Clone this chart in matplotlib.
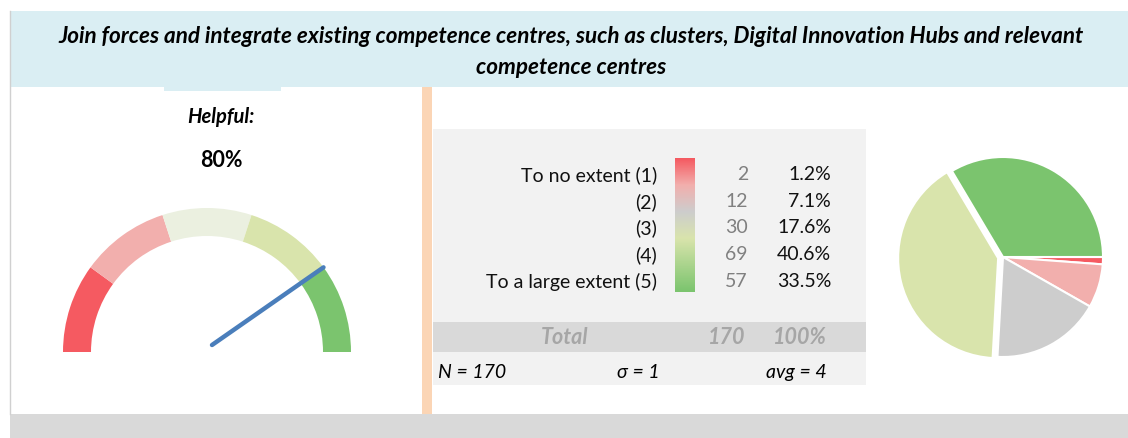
import numpy as np
import matplotlib
matplotlib.use("Agg")
import matplotlib.pyplot as plt
from matplotlib.patches import Rectangle, Wedge
from matplotlib.colors import LinearSegmentedColormap

# ---------------- data ----------------
title = "Join forces and integrate existing competence centres, such as clusters, Digital Innovation Hubs and relevant\ncompetence centres"
categories = ["To no extent (1)", "(2)", "(3)", "(4)", "To a large extent (5)"]
counts = [2, 12, 30, 69, 57]
percents = ["1.2%", "7.1%", "17.6%", "40.6%", "33.5%"]
total_count = 170
total_pct = "100%"
helpful_label = "Helpful:"
helpful_value = 0.80
footer = ["N = 170", "σ = 1", "avg = 4"]
colors = ["#F55A61", "#F2AFAD", "#CDCDCD", "#D9E4AC", "#7BC46E"]
gauge_colors = ["#F55A61", "#F2AFAD", "#EBF0E0", "#D9E4AC", "#7BC46E"]

FONT = ["Lato", "DejaVu Sans"]
plt.rcParams["font.family"] = FONT

W, H = 1128, 439
fig = plt.figure(figsize=(W / 100, H / 100), dpi=100)
bg = fig.add_axes([0, 0, 1, 1])
bg.set_xlim(0, W)
bg.set_ylim(H, 0)
bg.axis("off")

# background blocks
bg.add_patch(Rectangle((10, 12), W - 10, 76, color="#DAEEF3", lw=0))
bg.add_patch(Rectangle((164, 88), 117, 4, color="#DAEEF3", lw=0))
bg.add_patch(Rectangle((10, 415), W - 10, 24, color="#D9D9D9", lw=0))
bg.plot([10, 10], [12, 415], color="#D0D0D0", lw=1)
bg.add_patch(Rectangle((422, 88), 10, 327, color="#FBD5B5", lw=0))
bg.add_patch(Rectangle((433, 130), 433, 256, color="#F2F2F2", lw=0))
bg.add_patch(Rectangle((433, 323), 433, 30, color="#D9D9D9", lw=0))

bg.text(571, 52, title, ha="center", va="center", fontsize=16.2,
        fontweight="bold", fontstyle="italic", linespacing=1.55)

# helpful text
bg.text(221, 117, helpful_label, ha="center", va="center", fontsize=14.5,
        fontweight="bold", fontstyle="italic")
bg.text(221, 161, f"{helpful_value:.0%}", ha="center", va="center",
        fontsize=15.5, fontweight="bold")

# table
FS = 14
row_y = [175, 202, 228, 255, 282]
for y, cat, c, p in zip(row_y, categories, counts, percents):
    bg.text(657, y, cat, ha="right", va="center", fontsize=FS, color="#111111")
    bg.text(748, y, str(c), ha="right", va="center", fontsize=FS, color="#808080")
    bg.text(831, y, p, ha="right", va="center", fontsize=FS, color="#111111")

cmap = LinearSegmentedColormap.from_list("g", [(0, colors[0]), (0.2, colors[1]),
                                              (0.4, colors[2]), (0.6, colors[3]),
                                              (1.0, colors[4])])
grad = np.linspace(0, 1, 200).reshape(-1, 1)
bg.imshow(grad, cmap=cmap, aspect="auto", extent=[675, 695, 293, 159], zorder=3)
bg.set_xlim(0, W)
bg.set_ylim(H, 0)

bg.text(565, 338, "Total", ha="center", va="center", fontsize=15.5,
        fontweight="bold", fontstyle="italic", color="#A6A6A6")
bg.text(745, 338, str(total_count), ha="right", va="center", fontsize=15.5,
        fontweight="bold", fontstyle="italic", color="#A6A6A6")
bg.text(827, 338, total_pct, ha="right", va="center", fontsize=15.5,
        fontweight="bold", fontstyle="italic", color="#A6A6A6")

bg.text(438, 373, footer[0], ha="left", va="center", fontsize=FS, fontstyle="italic")
bg.text(638, 373, footer[1], ha="center", va="center", fontsize=FS, fontstyle="italic")
bg.text(827, 373, footer[2], ha="right", va="center", fontsize=FS, fontstyle="italic")

# ---------------- gauge ----------------
R = 144.0
cx, cy = 207, 353
gx0, gx1, gy0, gy1 = -1.05, 1.05, -0.1, 1.05
gax = fig.add_axes([(cx + gx0 * R) / W, (H - (cy - gy0 * R)) / H,
                    (gx1 - gx0) * R / W, (gy1 - gy0) * R / H])
gax.set_xlim(gx0, gx1)
gax.set_ylim(gy0, gy1)
gax.axis("off")
n = len(gauge_colors)
for i, col in enumerate(gauge_colors):
    a1 = 180 - i * 180 / n
    a0 = 180 - (i + 1) * 180 / n
    gax.add_patch(Wedge((0, 0), 1.0, a0, a1, width=28 / 144, color=col, lw=0))
ang = np.deg2rad(180 * (1 - helpful_value))
sx, sy = 5 / 144, 7 / 144
gax.plot([sx, np.cos(ang)], [sy, np.sin(ang)], color="#4A7EBB", lw=3.2,
         solid_capstyle="round")

# ---------------- pie ----------------
PR = 100.0
px, py = 1003, 258
pax = fig.add_axes([(px - 1.2 * PR) / W, (H - (py + 1.2 * PR)) / H,
                    2.4 * PR / W, 2.4 * PR / H])
explode = [0, 0, 0, 0.05, 0]
pax.pie(counts, colors=colors, startangle=0, counterclock=False, explode=explode,
        wedgeprops=dict(edgecolor="white", linewidth=1.5))
pax.set_xlim(-1.2, 1.2)
pax.set_ylim(-1.2, 1.2)
pax.set_aspect("equal")
pax.axis("off")

fig.savefig("out.png", dpi=100)
